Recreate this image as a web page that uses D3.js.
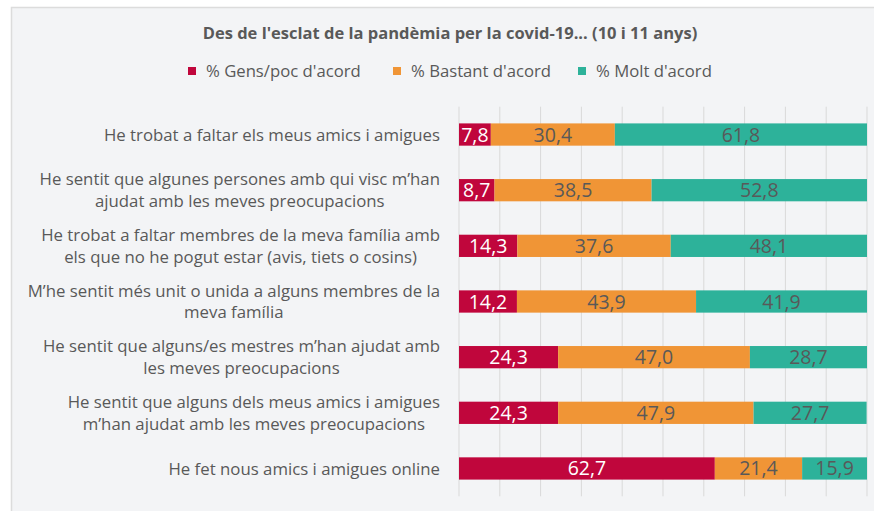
<!DOCTYPE html>
<html>
<head>
<meta charset="utf-8">
<script src="https://cdn.jsdelivr.net/npm/d3@7"></script>
<style>
  body { margin: 0; background: #fff; }
  text { font-family: "Open Sans", Lato, sans-serif; }
</style>
</head>
<body>
<div id="chart"></div>
<script>
const categories = [
  ["He trobat a faltar els meus amics i amigues"],
  ["He sentit que algunes persones amb qui visc m’han", "ajudat amb les meves preocupacions"],
  ["He trobat a faltar membres de la meva família amb", "els que no he pogut estar (avis, tiets o cosins)"],
  ["M’he sentit més unit o unida a alguns membres de la", "meva família"],
  ["He sentit que alguns/es mestres m’han ajudat amb", "les meves preocupacions"],
  ["He sentit que alguns dels meus amics i amigues", "m’han ajudat amb les meves preocupacions"],
  ["He fet nous amics i amigues online"]
];
const seriesNames = ["% Gens/poc d'acord", "% Bastant d'acord", "% Molt d'acord"];
const gensPoc = [7.8, 8.7, 14.3, 14.2, 24.3, 24.3, 62.7];
const bastant = [30.4, 38.5, 37.6, 43.9, 47.0, 47.9, 21.4];
const molt = [61.8, 52.8, 48.1, 41.9, 28.7, 27.7, 15.9];
const xTicks = [0, 10, 20, 30, 40, 50, 60, 70, 80, 90, 100];

const colors = ["#c0063c", "#f09536", "#2db29a"];
const labelColors = ["#ffffff", "#595959", "#595959"];

const svgObj = { width: 874, height: 511 };

const rows = categories.map((c, i) => ({
  id: i,
  lines: c,
  gens: gensPoc[i],
  bastant: bastant[i],
  molt: molt[i]
}));
const keys = ["gens", "bastant", "molt"];
const stacked = d3.stack().keys(keys)(rows);

const svg = d3.select("#chart").append("svg")
  .attr("width", svgObj.width)
  .attr("height", svgObj.height);

// chart frame
svg.append("rect")
  .attr("x", 11.5).attr("y", 7.5)
  .attr("width", 900).attr("height", 600)
  .attr("fill", "#f3f4f6")
  .attr("stroke", "#dcdcdc")
  .attr("stroke-width", 1.5);

const x = d3.scaleLinear().domain([0, 100]).range([459, 867]);
const y = d3.scaleBand().domain(rows.map(d => d.id)).range([106.7, 496.3])
  .paddingInner(0.6).paddingOuter(0.3);

// gridlines
svg.append("g").selectAll("line")
  .data(xTicks)
  .join("line")
  .attr("x1", d => x(d)).attr("x2", d => x(d))
  .attr("y1", 106.7).attr("y2", 496.3)
  .attr("stroke", "#d9d9d9")
  .attr("stroke-width", 1);

// bars
const fmt = v => d3.format(".1f")(v).replace(".", ",");
stacked.forEach((layer, k) => {
  const g = svg.append("g");
  g.selectAll("rect")
    .data(layer)
    .join("rect")
    .attr("x", d => x(d[0]))
    .attr("y", d => y(d.data.id))
    .attr("width", d => x(d[1]) - x(d[0]))
    .attr("height", y.bandwidth())
    .attr("fill", colors[k]);
  g.selectAll("text")
    .data(layer)
    .join("text")
    .attr("x", d => (x(d[0]) + x(d[1])) / 2)
    .attr("y", d => y(d.data.id) + y.bandwidth() / 2)
    .attr("dy", "0.36em")
    .attr("text-anchor", "middle")
    .attr("font-size", 19.5)
    .attr("fill", labelColors[k])
    .text(d => fmt(d[1] - d[0]));
});

// category labels (lines centered, block right aligned)
const lineH = 21.7;
const labelRight = 440;
rows.forEach(r => {
  const g = svg.append("g");
  const cy = y(r.id) + y.bandwidth() / 2;
  const texts = r.lines.map((ln, j) => g.append("text")
    .attr("y", cy + (j - (r.lines.length - 1) / 2) * lineH)
    .attr("dy", "0.36em")
    .attr("text-anchor", "middle")
    .attr("font-size", 16.8)
    .attr("fill", "#595959")
    .text(ln));
  const widths = texts.map(t => t.node().getComputedTextLength());
  const maxW = d3.max(widths);
  texts.forEach(t => t.attr("x", labelRight - maxW / 2));
});

// title
svg.append("text")
  .attr("x", 450).attr("y", 33)
  .attr("dy", "0.36em")
  .attr("text-anchor", "middle")
  .attr("font-size", 16.5)
  .attr("font-weight", "bold")
  .attr("fill", "#595959")
  .text("Des de l'esclat de la pandèmia per la covid-19... (10 i 11 anys)");

// legend
const legendX = [188, 393, 578];
const legend = svg.append("g");
seriesNames.forEach((name, i) => {
  legend.append("rect")
    .attr("x", legendX[i]).attr("y", 67)
    .attr("width", 8).attr("height", 8)
    .attr("fill", colors[i]);
  legend.append("text")
    .attr("x", legendX[i] + 18).attr("y", 71)
    .attr("dy", "0.36em")
    .attr("font-size", 16.7)
    .attr("fill", "#595959")
    .text(name);
});
</script>
</body>
</html>
